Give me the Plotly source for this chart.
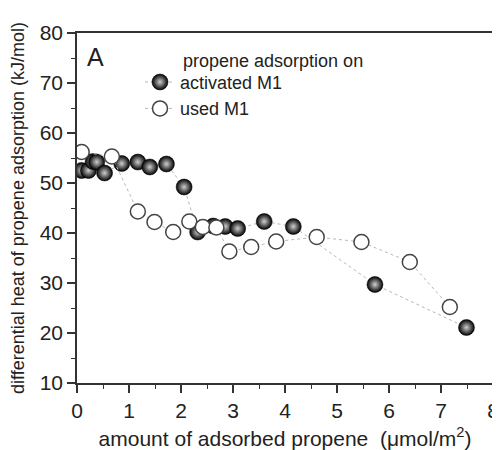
import plotly.graph_objects as go

act_x = [0.09, 0.22, 0.31, 0.38, 0.53, 0.86, 1.17, 1.40, 1.72, 2.06, 2.32, 2.62, 2.85, 3.09, 3.60, 4.16, 5.73, 7.49]
act_y = [52.5, 52.5, 54.3, 54.2, 52.0, 53.9, 54.2, 53.2, 53.8, 49.2, 40.2, 41.4, 41.3, 40.9, 42.3, 41.3, 29.7, 21.1]

used_x = [0.09, 0.67, 1.17, 1.49, 1.85, 2.16, 2.42, 2.68, 2.93, 3.35, 3.83, 4.61, 5.47, 6.40, 7.17]
used_y = [56.2, 55.3, 44.3, 42.2, 40.2, 42.3, 41.2, 41.1, 36.3, 37.2, 38.3, 39.2, 38.2, 34.2, 25.2]

font = "Liberation Sans, Arial, sans-serif"
fig = go.Figure()
fig.add_trace(go.Scatter(
    x=act_x, y=act_y, mode="lines+markers", name="activated M1",
    line=dict(color="#b8b8b8", width=1, dash="dot"),
    marker=dict(size=16, color="#000000", line=dict(color="#000000", width=0.5),
                gradient=dict(type="radial", color="#cfcfcf")),
))
fig.add_trace(go.Scatter(
    x=used_x, y=used_y, mode="lines+markers", name="used M1",
    line=dict(color="#b8b8b8", width=1, dash="dot"),
    marker=dict(size=15, color="#ffffff", line=dict(color="#444444", width=1.5)),
))

axis_common = dict(
    showline=True, linecolor="#333333", linewidth=1.5, mirror=True,
    ticks="outside", ticklen=8, tickwidth=1.5, tickcolor="#333333",
    showgrid=False, zeroline=False, automargin=False,
    tickfont=dict(family=font, size=21, color="#222222"),
)
fig.update_xaxes(range=[0, 8], dtick=1, tick0=0,
                 minor=dict(ticks="outside", ticklen=4, tickwidth=1, tickcolor="#333333", dtick=0.5),
                 title=dict(text="amount of adsorbed propene  (\u03bcmol/m<sup>2</sup>)",
                            font=dict(family=font, size=21, color="#222222"), standoff=13),
                 **axis_common)
fig.update_yaxes(range=[10, 80], dtick=10, tick0=10,
                 minor=dict(ticks="outside", ticklen=4, tickwidth=1, tickcolor="#333333", dtick=5),
                 title=dict(text="differential heat of propene adsorption (kJ/mol)",
                            font=dict(family=font, size=18, color="#222222"), standoff=12),
                 **axis_common)

fig.add_annotation(x=(85 - 77) / 416, y=75.3, xref="paper", yref="y", text="A", showarrow=False,
                   xanchor="left", yanchor="middle", font=dict(family=font, size=25, color="#222222"))
fig.add_annotation(x=(181 - 77) / 416, y=74.4, xref="paper", yref="y", text="propene adsorption on",
                   showarrow=False, xanchor="left", yanchor="middle",
                   font=dict(family=font, size=18, color="#222222"))

# page body has an 8px margin, so the figure is drawn 8px smaller and offset
fig.update_layout(
    width=492, height=442,
    margin=dict(l=69, r=7, t=25, b=67),
    paper_bgcolor="white", plot_bgcolor="white",
    showlegend=True,
    legend=dict(x=(140 - 77) / 416, y=0.912, xanchor="left", yanchor="top",
                bgcolor="rgba(0,0,0,0)", font=dict(family=font, size=18, color="#222222"),
                tracegroupgap=0, itemwidth=30),
)
fig.write_html("out.html")
